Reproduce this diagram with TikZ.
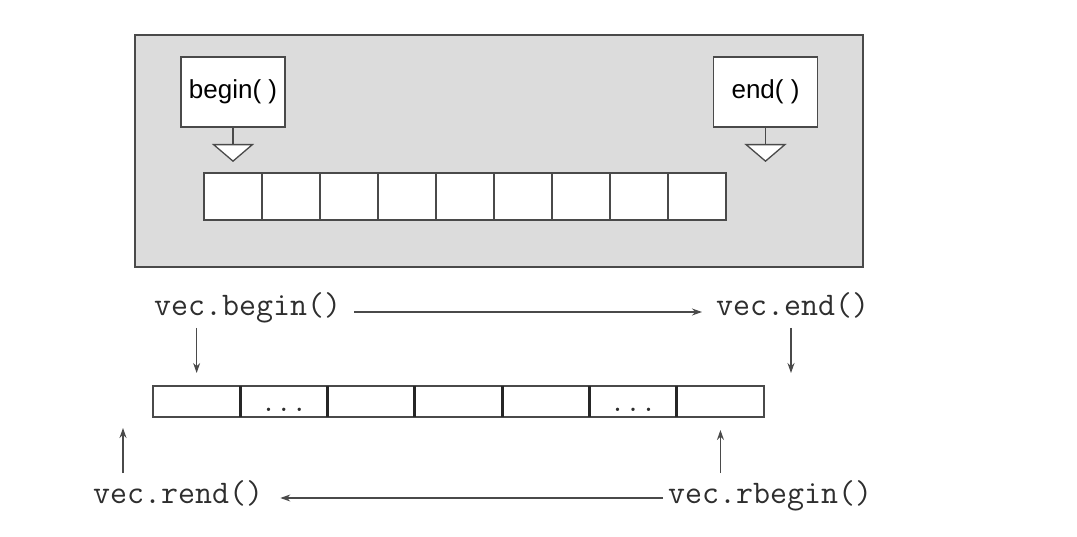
\documentclass[tikz,border=0pt]{standalone}
\usepackage{fontspec}
\setmainfont{Liberation Sans}
\usepackage{tikz}
\usetikzlibrary{arrows.meta,positioning,calc}
\definecolor{PanelGray}{HTML}{DCDCDC}
\definecolor{EdgeGray}{HTML}{4A4A4A}
\definecolor{InkGray}{HTML}{2E2E2E}
\definecolor{LineGray}{HTML}{4A4A4A}

\begin{document}
\begin{tikzpicture}[x=1pt,y=-1pt,
    cell/.style={draw=EdgeGray, fill=white, line width=1.2pt, minimum width=58pt, minimum height=47pt, inner sep=0pt, outer sep=0pt},
    tag/.style={draw=EdgeGray, fill=white, line width=1.3pt, minimum width=104pt, minimum height=70pt, inner sep=0pt, font=\fontsize{26}{31}\selectfont},
    hollow/.style={draw=EdgeGray, line width=1.3pt, -{Triangle[length=18pt, width=42pt, fill=white]}},
    slot/.style={minimum width=87.3pt, minimum height=31pt, inner sep=0pt, outer sep=0pt},
    call/.style={anchor=base west, inner sep=0pt, text=InkGray, font=\ttfamily\fontsize{33}{39}\selectfont},
    ptr/.style={draw=LineGray, line width=1.1pt, -{Stealth[length=10pt, width=7pt]}}]
        \useasboundingbox (0,0) rectangle (1077,537);

        % container panel
        \fill[PanelGray, draw=EdgeGray, line width=1.3pt] (135,35) rectangle (863,267);
        \foreach \i in {1,...,9}
          \node[cell] (c\i) at ({204+58*(\i-0.5)},196.5) {};

        \node[tag] (b) at (233,92) {begin( )};
        \node[tag] (e) at (765.5,92) {end( )};
        \coordinate (past) at (765.5,162);
        \draw[hollow] (b.south) -- ([yshift=11pt]c1.north);
        \draw[hollow] (e.south) -- (past);

        % iterator row
        \foreach \i in {1,...,7}
          \node[slot] (v\i) at ({153+87.3*(\i-0.5)},401.5) {};
        \draw[EdgeGray, line width=1.5pt] (v1.north west) rectangle (v7.south east);
        \foreach \i in {1,...,6}
          \draw[black!85, line width=3pt] (v\i.north east) -- (v\i.south east);
        \node[call, anchor=base, font=\ttfamily\fontsize{30}{36}\selectfont] (dots2) at ([yshift=-10pt]v2.center) {...};
        \node[call, anchor=base, font=\ttfamily\fontsize{30}{36}\selectfont] (dots6) at ([yshift=-10pt]v6.center) {...};

        \node[call] (vb) at (154,316) {vec.begin()};
        \node[call] (ve) at (716,316) {vec.end()};
        \node[call] (vre) at (93,503) {vec.rend()};
        \node[call] (vrb) at (668,503) {vec.rbegin()};
        \coordinate (vpast) at (791,386);
        \coordinate (vbefore) at (123,417);

        \draw[ptr] ([xshift=13pt,yshift=4pt]vb.base east) -- ([xshift=-14pt,yshift=4pt]ve.base west);
        \draw[ptr, shorten <=12pt, shorten >=13pt] (vb.base -| v1.north) -- (v1.north);
        \draw[ptr, shorten <=12pt, shorten >=13pt] (ve.base -| vpast) -- (vpast);
        \draw[ptr, shorten <=30pt, shorten >=13pt] (vrb.base -| v7.south) -- (v7.south);
        \draw[ptr, shorten <=30pt, shorten >=11pt] (vre.base -| vbefore) -- (vbefore);
        \draw[ptr] ([xshift=-5pt,yshift=5pt]vrb.base west) -- ([xshift=17pt,yshift=5pt]vre.base east);
      \end{tikzpicture}
\end{document}
